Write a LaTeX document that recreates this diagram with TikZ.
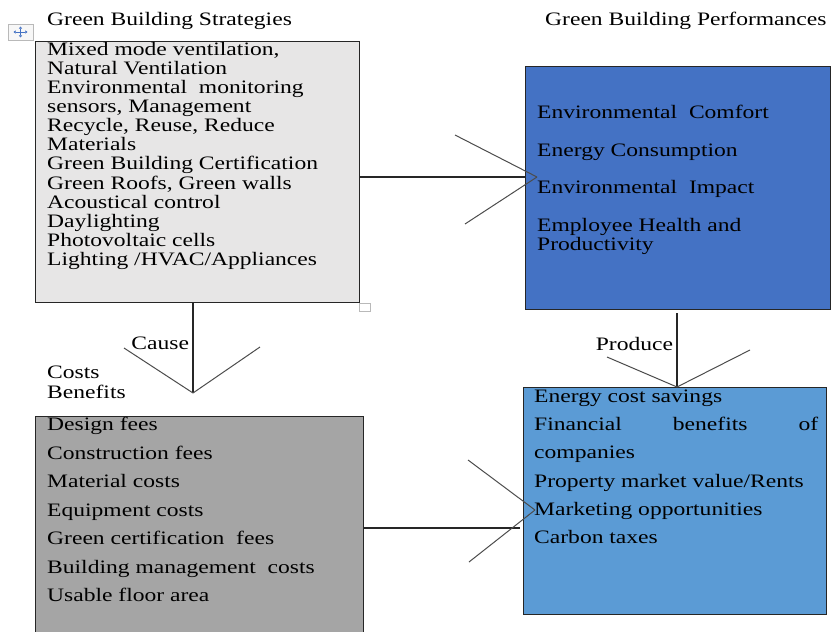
\documentclass[tikz,border=0pt]{standalone}
\usepackage{fontspec}
\setmainfont{Liberation Serif}[FakeStretch=1.24]
\usetikzlibrary{arrows.meta,positioning}
\definecolor{stratgray}{HTML}{E7E6E6}
\definecolor{perfblue}{HTML}{4472C4}
\definecolor{costgray}{HTML}{A5A5A5}
\definecolor{beneblue}{HTML}{5B9BD5}
\tikzset{
  panel/.style={draw=black!85, line width=1.4pt, anchor=north west, inner sep=0pt},
  listtext/.style={anchor=north west, inner sep=0pt, align=left,
    font=\fontsize{19}{#1}\selectfont},
  listtext/.default=19.1,
  heading/.style={anchor=base west, inner sep=0pt, font=\fontsize{19}{20}\selectfont},
  linklabel/.style={anchor=base east, font=\fontsize{19}{20}\selectfont},
  conn/.style={draw=black!85, line width=1.3pt},
  arm/.style={draw=black!70, line width=1pt},
  handle/.style={draw=gray!55, line width=0.8pt, fill=gray!6, inner sep=0pt},
  crosstip/.style={draw=perfblue, line width=0.9pt,
    {Triangle[length=2.2pt,width=3.2pt]}-{Triangle[length=2.2pt,width=3.2pt]}}
}
\begin{document}
\begin{tikzpicture}[x=1pt,y=-1pt]
  \useasboundingbox (0,0) rectangle (831,632);
  \clip (0,0) rectangle (831,632);

  % headings
  \node[heading] (strathead) at (47,25) {Green Building Strategies};
  \node[heading] (perfhead) at (545,25) {Green Building Performances};
  \node[listtext=20] (costhead) at (47,366) {Costs\\Benefits};

  % panels
  \node[panel, fill=stratgray, minimum width=324pt, minimum height=261pt] (strat) at (35,41) {};
  \node[panel, fill=perfblue, minimum width=305pt, minimum height=243pt] (perf) at (525,66) {};
  \node[panel, fill=costgray, minimum width=328pt, minimum height=250pt] (cost) at (35,416) {};
  \node[panel, fill=beneblue, minimum width=303pt, minimum height=227pt] (bene) at (523,387) {};

  % panel texts
  \node[listtext, below right=1pt and 12pt of strat.north west] (stratlist) {%
    Mixed mode ventilation,\\
    Natural Ventilation\\
    Environmental\ \ monitoring\\
    sensors, Management\\
    Recycle,\ Reuse, Reduce\\
    Materials\\
    Green Building Certification\\
    Green Roofs, Green walls\\
    Acoustical\ control\\
    Daylighting\\
    Photovoltaic\ cells\\
    Lighting\ /HVAC/Appliances};
  \node[listtext=19.5, below right=39pt and 12pt of perf.north west] (perflist) {%
    Environmental\ \ Comfort\\[18pt]
    Energy\ Consumption\\[18pt]
    Environmental\ \ Impact\\[18pt]
    Employee\ Health\ and\\
    Productivity};
  \node[listtext=28.5, below right=1pt and 12pt of cost.north west] (costlist) {%
    Design fees\\
    Construction\ fees\\
    Material\ costs\\
    Equipment\ costs\\
    Green certification\ \ fees\\
    Building management\ \ costs\\
    Usable floor area};
  \node[listtext=28.3, below right=2.4pt and 11pt of bene.north west] (benelist) {%
    Energy\ cost savings\\
    \makebox[284pt][s]{Financial benefits of}\\
    companies\\
    Property market value/Rents\\
    Marketing\ opportunities\\
    Carbon\ taxes};

  % connectors with open chevron heads
  \coordinate (tipAB) at (537,177);
  \coordinate (tipAC) at (193,393);
  \coordinate (tipBD) at (677,387);
  \coordinate (tipCD) at (535,510);
  \coordinate (endCD) at (520,528);

  \draw[conn] (strat.east |- tipAB) -- (perf.west |- tipAB);
  \draw[arm] (tipAB) -- ++(-82,-42) (tipAB) -- ++(-72,47);

  \draw[conn] (strat.south -| tipAC) -- node[linklabel, pos=0.52] {Cause} (tipAC);
  \draw[arm] (tipAC) -- ++(-69,-45) (tipAC) -- ++(67,-46);

  \draw[conn] ([yshift=-3pt]perf.south -| tipBD) -- node[linklabel, pos=0.51] {Produce} (tipBD);
  \draw[arm] (tipBD) -- ++(-70,-30) (tipBD) -- ++(73,-37);

  \draw[conn] (cost.east |- endCD) -- (endCD);
  \draw[arm] (tipCD) -- ++(-67,-50) (tipCD) -- ++(-66,52);

  % editor handles
  \node[handle, minimum width=25pt, minimum height=16pt] (movehandle) at (20.5,32) {};
  \draw[crosstip] ([xshift=-7pt]movehandle.center) -- ([xshift=7pt]movehandle.center);
  \draw[crosstip] ([yshift=-5.5pt]movehandle.center) -- ([yshift=5.5pt]movehandle.center);
  \node[handle, fill=white, anchor=north west, minimum width=11pt, minimum height=8pt] (sizehandle) at (359,303) {};
\end{tikzpicture}
\end{document}
